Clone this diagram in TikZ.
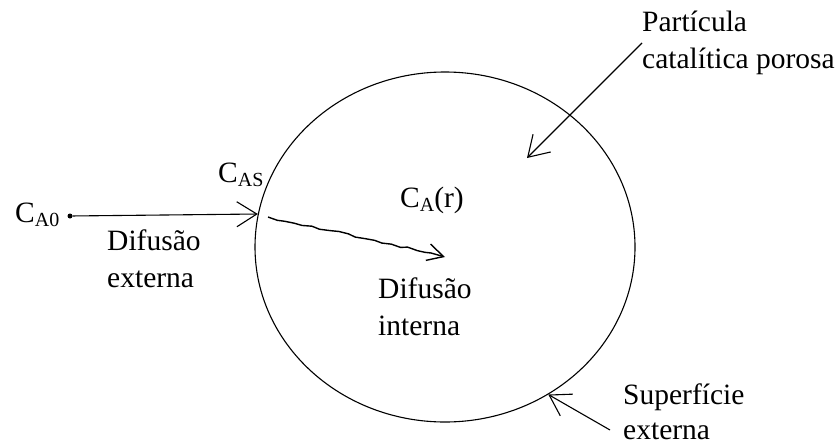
\documentclass[tikz,border=0pt]{standalone}
\usepackage{fontspec}
\setmainfont{Liberation Serif}
\usepackage{tikz}
\usetikzlibrary{shapes.geometric, arrows.meta, decorations.pathmorphing}
\tikzstyle{particle} = [ellipse, draw=black, line width=1.1pt, minimum width=380pt, minimum height=350pt, inner sep=0pt]
\tikzstyle{txt} = [inner sep=0pt, anchor=base west, align=left, font=\fontsize{29.5}{37}\selectfont]
\tikzstyle{arrow} = [line width=1.1pt, -{Straight Barb[length=20pt, width=25pt]}]
\tikzstyle{wiggle} = [line width=1.4pt, decorate, decoration={random steps, segment length=9pt, amplitude=1.3pt}]
\tikzstyle{smallarrow} = [line width=1.4pt, -{Straight Barb[length=16pt, width=17pt]}]
\newcommand{\subtxt}[1]{\raisebox{-0.3ex}{\fontsize{20}{20}\selectfont #1}}

\begin{document}
\begin{tikzpicture}[x=1pt, y=-1pt]
\useasboundingbox (0,0) rectangle (840,447);

\node (particle) [particle] at (445,247) {};

% points on the surface
\coordinate (cas) at (particle.170.5);
\coordinate (surf) at (particle.-55.7);
\coordinate (inside) at (527,158);
\coordinate (wigstart) at (268,217);
\coordinate (wigmid) at (431,253);
\coordinate (wigend) at (445,257);

\node (dot) [circle, fill=black, inner sep=0pt, minimum size=5pt] at (70,216) {};

% texts (base = last line)
\node (cA0) [txt] at (15,222) {C\subtxt{A0}};
\node (cAS) [txt] at (218,182) {C\subtxt{AS}};
\node (cAr) [txt] at (400,207) {C\subtxt{A}(r)};
\node (ext) [txt] at (107,287) {Difusão\\externa};
\node (int) [txt] at (378,335) {Difusão\\interna};
\node (part) [txt] at (642,68) {Partícula\\catalítica porosa};
\node (sup) [txt, font=\fontsize{29.5}{35}\selectfont] at (623,439) {Superfície\\externa};

\coordinate (partstart) at (642,43);
\coordinate (supstart) at (610,430);

\draw [arrow] (dot) -- (cas);
\draw [wiggle] (wigstart) -- (wigmid);
\draw [smallarrow] (wigmid) -- (wigend);
\draw [arrow] (partstart) -- (inside);
\draw [arrow] (supstart) -- (surf);

\end{tikzpicture}
\end{document}
